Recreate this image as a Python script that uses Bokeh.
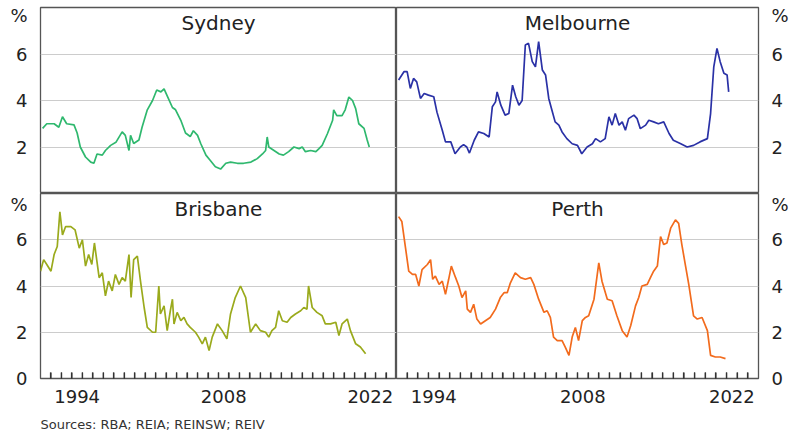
from bokeh.plotting import figure
from bokeh.layouts import gridplot
from bokeh.models import Range1d, FixedTicker, Label, Title
from bokeh.embed import file_html
from bokeh.resources import INLINE

# ---------------- data ----------------
syd_years = [1991.2, 1991.6, 1992.3, 1992.75, 1993.1, 1993.5, 1994.2, 1994.5, 1994.8, 1995.3,
             1995.8, 1996.1, 1996.4, 1996.9, 1997.2, 1997.7, 1998.2, 1998.8, 1999.1, 1999.45,
             1999.6, 1999.9, 2000.4, 2000.7, 2001.2, 2001.7, 2002.1, 2002.5, 2002.8, 2003.1,
             2003.6, 2003.9, 2004.4, 2004.85, 2005.3, 2005.6, 2006.0, 2006.3, 2006.8, 2007.2,
             2007.7, 2008.2, 2008.7, 2009.15, 2009.8, 2010.4, 2011.1, 2011.7, 2012.2, 2012.5,
             2012.65, 2012.8, 2013.3, 2013.8, 2014.2, 2014.7, 2015.2, 2015.7, 2016.0, 2016.3,
             2016.8, 2017.3, 2017.6, 2017.9, 2018.4, 2018.9, 2019.0, 2019.3, 2019.8, 2020.1,
             2020.45, 2020.8, 2021.1, 2021.4, 2021.9, 2022.2, 2022.4]
syd_vals = [2.8, 3.0, 3.0, 2.85, 3.3, 3.0, 2.95, 2.6, 2.0, 1.57,
            1.35, 1.3, 1.7, 1.65, 1.85, 2.07, 2.2, 2.65, 2.5, 1.85,
            2.5, 2.15, 2.3, 2.85, 3.6, 4.0, 4.45, 4.37, 4.5, 4.2,
            3.7, 3.6, 3.15, 2.6, 2.45, 2.7, 2.5, 2.15, 1.65, 1.43,
            1.15, 1.05, 1.3, 1.35, 1.3, 1.3, 1.35, 1.5, 1.7, 1.85,
            2.43, 2.0, 1.85, 1.7, 1.65, 1.8, 2.0, 1.93, 2.0, 1.8,
            1.85, 1.8, 1.93, 2.07, 2.57, 3.15, 3.6, 3.35, 3.35, 3.6,
            4.15, 4.0, 3.65, 3.0, 2.8, 2.3, 2.0]

mel_years = [1991.2, 1991.7, 1992.0, 1992.3, 1992.6, 1992.9, 1993.25, 1993.6, 1994.0, 1994.5,
             1994.8, 1995.3, 1995.6, 1996.1, 1996.5, 1997.0, 1997.3, 1997.6, 1997.85, 1998.3,
             1998.7, 1999.2, 1999.7, 2000.0, 2000.3, 2000.45, 2000.8, 2001.2, 2001.55, 2001.9,
             2002.2, 2002.5, 2002.8, 2003.1, 2003.4, 2003.75, 2004.05, 2004.35, 2004.7, 2005.0,
             2005.3, 2005.6, 2005.9, 2006.25, 2006.55, 2007.0, 2007.5, 2008.0, 2008.4, 2008.9,
             2009.4, 2009.7, 2010.15, 2010.6, 2010.95, 2011.25, 2011.55, 2011.9, 2012.2, 2012.5,
             2012.8, 2013.3, 2013.6, 2013.9, 2014.4, 2014.7, 2015.15, 2015.6, 2016.1, 2016.6,
             2017.0, 2017.7, 2018.3, 2018.9, 2019.5, 2020.2, 2020.5, 2020.8, 2021.1, 2021.4,
             2021.75, 2022.05, 2022.2]
mel_vals = [4.88, 5.24, 5.24, 4.52, 4.95, 4.8, 4.09, 4.3, 4.23, 4.16,
            3.5, 2.72, 2.22, 2.22, 1.71, 2.0, 2.1, 2.0, 1.74, 2.29,
            2.65, 2.58, 2.43, 3.73, 3.94, 4.37, 3.8, 3.37, 3.44, 4.66,
            4.16, 3.8, 4.0, 6.39, 6.46, 5.67, 5.45, 6.53, 5.31, 5.1,
            4.09, 3.58, 3.08, 2.94, 2.65, 2.36, 2.14, 2.07, 1.71, 2.0,
            2.14, 2.36, 2.22, 2.36, 3.3, 2.94, 3.44, 2.94, 3.08, 2.72,
            3.22, 3.37, 3.22, 2.79, 2.94, 3.15, 3.08, 3.0, 3.08, 2.58,
            2.29, 2.14, 2.0, 2.07, 2.22, 2.36, 3.44, 5.45, 6.24, 5.67,
            5.17, 5.1, 4.37]

bne_years = [1991.0, 1991.3, 1991.6, 1992.0, 1992.3, 1992.6, 1992.85, 1993.1, 1993.4, 1993.9,
             1994.3, 1994.7, 1995.0, 1995.3, 1995.6, 1995.9, 1996.15, 1996.6, 1996.9, 1997.2,
             1997.5, 1997.85, 1998.15, 1998.5, 1998.8, 1999.1, 1999.45, 1999.65, 1999.9, 2000.25,
             2000.55, 2000.9, 2001.2, 2001.7, 2002.0, 2002.3, 2002.45, 2002.8, 2003.1, 2003.4,
             2003.6, 2003.75, 2004.05, 2004.4, 2004.7, 2005.0, 2005.3, 2005.8, 2006.1, 2006.45,
             2006.75, 2007.1, 2007.4, 2007.9, 2008.35, 2008.8, 2009.15, 2009.6, 2010.1, 2010.6,
             2011.05, 2011.55, 2012.0, 2012.5, 2012.8, 2013.1, 2013.45, 2013.75, 2014.1, 2014.55,
             2014.9, 2015.35, 2015.85, 2016.15, 2016.45, 2016.6, 2016.95, 2017.4, 2017.9, 2018.2,
             2018.7, 2019.2, 2019.5, 2019.8, 2020.3, 2020.6, 2021.1, 2021.55, 2022.05]
bne_vals = [4.64, 5.14, 4.93, 4.64, 5.36, 5.71, 7.21, 6.21, 6.57, 6.57,
            6.43, 5.64, 6.0, 4.86, 5.36, 4.93, 5.86, 4.36, 4.57, 3.57,
            4.21, 3.79, 4.5, 4.07, 4.36, 4.21, 5.36, 3.5, 5.14, 5.29,
            4.21, 3.07, 2.21, 2.0, 2.0, 4.0, 2.79, 3.14, 2.07, 2.93,
            3.43, 2.36, 2.86, 2.5, 2.64, 2.36, 2.21, 2.0, 1.79, 1.5,
            1.79, 1.21, 1.79, 2.36, 2.07, 1.71, 2.79, 3.5, 4.0, 3.5,
            2.0, 2.36, 2.07, 2.0, 1.79, 2.07, 2.21, 2.93, 2.5, 2.43,
            2.64, 2.79, 2.93, 3.07, 3.0, 4.0, 3.07, 2.86, 2.71, 2.36,
            2.36, 2.43, 1.86, 2.36, 2.57, 2.07, 1.5, 1.36, 1.07]

per_years = [1991.2, 1991.5, 1991.85, 1992.15, 1992.5, 1992.8, 1993.1, 1993.4, 1993.9, 1994.2,
             1994.4, 1994.65, 1995.0, 1995.3, 1995.6, 1995.9, 1996.15, 1996.55, 1996.85, 1997.15,
             1997.5, 1997.65, 1997.95, 1998.25, 1998.55, 1998.9, 1999.35, 1999.8, 2000.3, 2000.75,
             2001.1, 2001.4, 2001.7, 2002.15, 2002.65, 2003.1, 2003.6, 2003.9, 2004.35, 2004.85,
             2005.15, 2005.45, 2005.75, 2006.1, 2006.55, 2006.85, 2007.2, 2007.5, 2007.8, 2008.1,
             2008.45, 2008.75, 2009.05, 2009.55, 2010.0, 2010.3, 2010.8, 2011.25, 2011.7, 2012.2,
             2012.65, 2013.0, 2013.45, 2013.75, 2014.05, 2014.55, 2014.85, 2015.15, 2015.5, 2015.8,
             2016.1, 2016.4, 2016.75, 2017.2, 2017.5, 2017.8, 2018.15, 2018.45, 2018.9, 2019.25,
             2019.7, 2020.2, 2020.5, 2020.95, 2021.4, 2021.9]
per_vals = [7.0, 6.79, 5.64, 4.64, 4.5, 4.5, 4.0, 4.71, 4.93, 5.14,
            4.29, 4.43, 4.07, 4.21, 3.64, 4.29, 4.86, 4.36, 4.0, 3.5,
            3.79, 3.0, 2.86, 3.21, 2.57, 2.36, 2.5, 2.64, 3.0, 3.5,
            3.71, 3.71, 4.14, 4.57, 4.36, 4.29, 4.36, 4.07, 3.43, 2.86,
            2.93, 2.64, 1.79, 1.64, 1.64, 1.36, 1.0, 1.79, 2.21, 1.64,
            2.5, 2.64, 2.71, 3.43, 5.0, 4.21, 3.43, 3.36, 2.71, 2.07,
            1.79, 2.29, 3.14, 3.5, 4.0, 4.07, 4.36, 4.64, 4.86, 6.14,
            5.79, 5.86, 6.5, 6.86, 6.71, 5.79, 4.86, 4.07, 2.71, 2.57,
            2.64, 2.07, 1.0, 0.93, 0.93, 0.86]

x_label_pos = [1994.5, 2008.5, 2022.5]
x_label_text = ["1994", "2008", "2022"]
year_ticks = list(range(1992, 2025))

FONT = "DejaVu Sans"
TXT = "#222222"
BORDER = "#555555"
TICK_LEN = 0.26  # length of the yearly tick marks, in y units (style)


def make_panel(name, years, vals, color, left, top):
    p = figure(
        frame_width=356 if left else 362,
        frame_height=186 if top else 185,
        x_range=Range1d(1991, 2025), y_range=Range1d(0, 8),
        output_backend="svg", toolbar_location=None,
        x_axis_location=None if top else "below",
        y_axis_location="left" if left else "right",
        min_border_left=40 if left else 0,
        min_border_right=0 if left else 30,
        min_border_top=7 if top else 0, min_border_bottom=0,
        background_fill_color="white", border_fill_color="white",
    )
    p.outline_line_color = BORDER
    p.outline_line_width = 1.3
    p.xgrid.grid_line_color = None
    p.ygrid.ticker = FixedTicker(ticks=[2, 4, 6])
    p.ygrid.grid_line_color = "#cccccc"
    p.ygrid.grid_line_width = 1

    yt = [2, 4, 6, 7.65] if top else [0, 2, 4, 6, 7.65]
    ya = p.yaxis[0]
    ya.ticker = FixedTicker(ticks=yt)
    ya.major_label_overrides = {7.65: "%"}
    ya.axis_line_color = None
    ya.major_tick_line_color = None
    ya.minor_tick_line_color = None
    ya.major_label_standoff = 7
    ya.major_label_text_font = FONT
    ya.major_label_text_font_size = "18px"
    ya.major_label_text_color = TXT

    if not top:
        xa = p.xaxis[0]
        xa.ticker = FixedTicker(ticks=x_label_pos, minor_ticks=year_ticks)
        xa.major_label_overrides = dict(zip(x_label_pos, x_label_text))
        xa.axis_line_color = None
        xa.major_tick_line_color = None
        xa.minor_tick_line_color = "#333333"
        xa.minor_tick_line_width = 1.2
        xa.minor_tick_in = 6
        xa.minor_tick_out = 0
        xa.major_label_standoff = 5
        xa.major_label_text_font = FONT
        xa.major_label_text_font_size = "18px"
        xa.major_label_text_color = TXT
        # yearly tick marks drawn on top of everything as well
        p.segment(x0=year_ticks, y0=[0] * len(year_ticks),
                  x1=year_ticks, y1=[TICK_LEN] * len(year_ticks),
                  line_color="#333333", line_width=1.3, level="overlay")

    p.line(years, vals, line_color=color, line_width=1.7)
    p.add_layout(Label(x=2008, y=7.35, text=name, text_align="center",
                       text_baseline="middle", text_font=FONT,
                       text_font_size="20px", text_color=TXT))
    return p


p1 = make_panel("Sydney", syd_years, syd_vals, "#2fb86e", True, True)
p2 = make_panel("Melbourne", mel_years, mel_vals, "#2a31a6", False, True)
p3 = make_panel("Brisbane", bne_years, bne_vals, "#9aaa1c", True, False)
p4 = make_panel("Perth", per_years, per_vals, "#f26b1d", False, False)

p3.add_layout(Title(text="Sources: RBA; REIA; REINSW; REIV", align="left",
                    text_font=FONT, text_font_size="13px",
                    text_font_style="normal", text_color="#333333",
                    standoff=18), "below")

grid = gridplot([[p1, p2], [p3, p4]], toolbar_location=None)

open("out.html", "w").write(file_html(grid, INLINE))
